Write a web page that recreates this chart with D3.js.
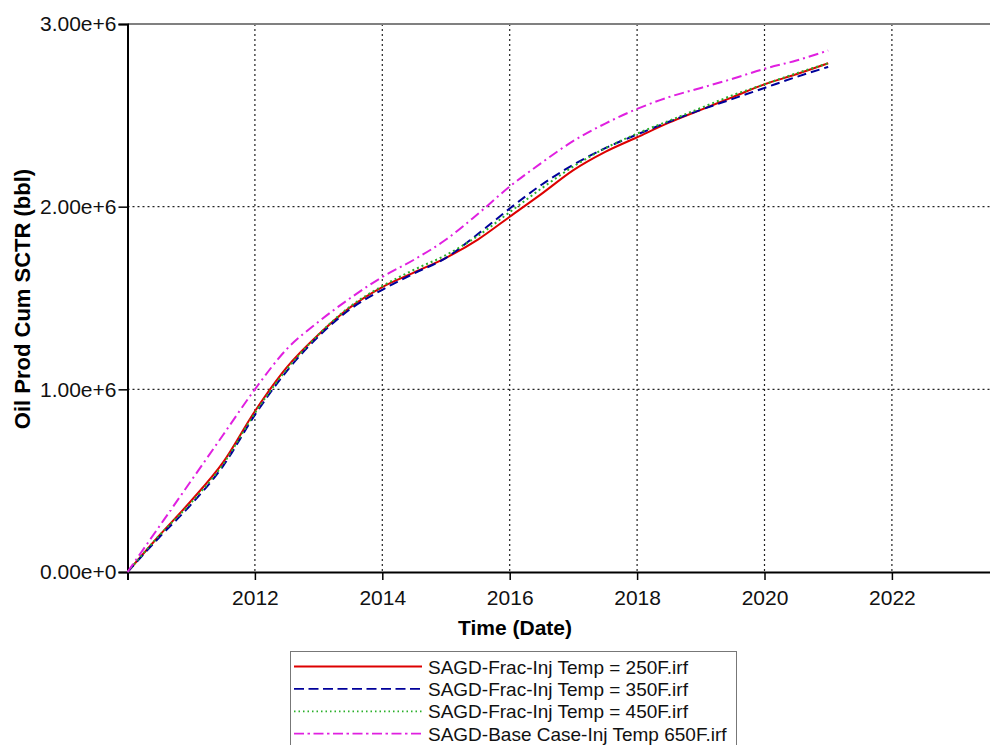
<!DOCTYPE html>
<html>
<head>
<meta charset="utf-8">
<script src="https://cdn.jsdelivr.net/npm/d3@7"></script>
<style>
  html, body { margin: 0; padding: 0; background: #fff; }
  svg { display: block; font-family: Arial, "Liberation Sans", sans-serif; }
</style>
</head>
<body>
<svg id="chart" width="990" height="745"></svg>
<script>
// ---- data ----
const years = [2010, 2010.5, 2011, 2011.5, 2012, 2012.5, 2013, 2013.5, 2014, 2014.5, 2015, 2015.5,
               2016, 2016.5, 2017, 2017.5, 2018, 2018.5, 2019, 2019.5, 2020, 2020.5, 2021];
const seriesNames = [
  "SAGD-Frac-Inj Temp = 250F.irf",
  "SAGD-Frac-Inj Temp = 350F.irf",
  "SAGD-Frac-Inj Temp = 450F.irf",
  "SAGD-Base Case-Inj Temp 650F.irf"
];
const temp250 = [0, 0.20e6, 0.39e6, 0.60e6, 0.88e6, 1.12e6, 1.30e6, 1.45e6, 1.56e6, 1.64e6, 1.72e6, 1.82e6,
                 1.945e6, 2.07e6, 2.20e6, 2.30e6, 2.38e6, 2.46e6, 2.53e6, 2.60e6, 2.67e6, 2.725e6, 2.785e6];
const temp350 = [0, 0.19e6, 0.37e6, 0.58e6, 0.86e6, 1.10e6, 1.29e6, 1.44e6, 1.545e6, 1.635e6, 1.72e6, 1.85e6,
                 1.99e6, 2.12e6, 2.23e6, 2.32e6, 2.395e6, 2.465e6, 2.53e6, 2.59e6, 2.65e6, 2.71e6, 2.765e6];
const temp450 = [0, 0.20e6, 0.38e6, 0.59e6, 0.87e6, 1.11e6, 1.30e6, 1.455e6, 1.565e6, 1.655e6, 1.735e6, 1.84e6,
                 1.97e6, 2.10e6, 2.22e6, 2.32e6, 2.40e6, 2.47e6, 2.54e6, 2.61e6, 2.67e6, 2.73e6, 2.785e6];
const base650 = [0, 0.25e6, 0.50e6, 0.75e6, 1.00e6, 1.22e6, 1.37e6, 1.50e6, 1.615e6, 1.71e6, 1.82e6, 1.96e6,
                 2.11e6, 2.24e6, 2.36e6, 2.455e6, 2.535e6, 2.60e6, 2.65e6, 2.70e6, 2.755e6, 2.80e6, 2.855e6];
const xTicks = [2012, 2014, 2016, 2018, 2020, 2022];
const yTicks = [0, 1e6, 2e6, 3e6];
const yTickLabels = ["0.00e+0", "1.00e+6", "2.00e+6", "3.00e+6"];
const xTitle = "Time (Date)";
const yTitle = "Oil Prod Cum SCTR (bbl)";

// ---- styles ----
const styles = [
  { color: "#dd0000", dash: null, width: 2 },
  { color: "#00009a", dash: "9,5", width: 2 },
  { color: "#2ab02a", dash: "2,3", width: 2 },
  { color: "#e020e0", dash: "10,4,2,4", width: 2 }
];
const legendDash = [null, "10,4.5", "1.5,3", "10,3.5,2.5,3.5"];
const seriesData = [temp250, temp350, temp450, base650];

const svg = d3.select("#chart");
const L = 127.5, T = 24, B = 572;
const x = d3.scaleLinear().domain([2010, 2023.6]).range([L, L + 13.6 * 63.7]);
const y = d3.scaleLinear().domain([0, 3e6]).range([B, T]);
const R = x.range()[1];
const FONT = "Arial, 'Liberation Sans', sans-serif";

// grid
const grid = svg.append("g");
grid.selectAll("line.v").data(xTicks).join("line")
  .attr("x1", d => x(d)).attr("x2", d => x(d))
  .attr("y1", T).attr("y2", B)
  .attr("stroke", "#222").attr("stroke-width", 1.2).attr("stroke-dasharray", "2,3");
grid.selectAll("line.h").data([1e6, 2e6]).join("line")
  .attr("x1", L).attr("x2", R)
  .attr("y1", d => y(d)).attr("y2", d => y(d))
  .attr("stroke", "#222").attr("stroke-width", 1.2).attr("stroke-dasharray", "2,3");

// top border
svg.append("line").attr("x1", L).attr("x2", R).attr("y1", T).attr("y2", T)
  .attr("stroke", "#808080").attr("stroke-width", 2);

// axes
const xAxis = d3.axisBottom(x).tickValues(xTicks).tickFormat(d3.format("d")).tickSizeOuter(0).tickSize(8).tickPadding(10);
const gx = svg.append("g").attr("transform", `translate(0,${B})`).call(xAxis);
gx.select(".domain").attr("stroke", "#000").attr("stroke-width", 2);
gx.selectAll(".tick line").attr("stroke", "#000").attr("stroke-width", 1.5);
gx.selectAll(".tick text").attr("font-size", 21).attr("fill", "#111").attr("font-family", FONT);

const yAxis = d3.axisLeft(y).tickValues(yTicks).tickFormat((d, i) => yTickLabels[i]).tickSizeOuter(0).tickSize(9).tickPadding(2);
const gy = svg.append("g").attr("transform", `translate(${L},0)`).call(yAxis);
gy.select(".domain").attr("stroke", "#000").attr("stroke-width", 2);
gy.selectAll(".tick line").attr("stroke", "#000").attr("stroke-width", 1.5);
gy.selectAll(".tick text").attr("font-size", 21).attr("fill", "#111").attr("font-family", FONT);

// titles
svg.append("text").attr("x", 515).attr("y", 635).attr("text-anchor", "middle")
  .attr("font-size", 21).attr("font-weight", "bold").attr("fill", "#000").text(xTitle);
svg.append("text").attr("transform", "translate(30,299) rotate(-90)").attr("text-anchor", "middle")
  .attr("font-size", 22).attr("font-weight", "bold").attr("fill", "#000").text(yTitle);

// lines
const line = d3.line().x((d, i) => x(years[i])).y(d => y(d)).curve(d3.curveMonotoneX);
seriesData.forEach((s, k) => {
  svg.append("path").datum(s).attr("d", line)
    .attr("fill", "none").attr("stroke", styles[k].color).attr("stroke-width", styles[k].width)
    .attr("stroke-dasharray", styles[k].dash);
});

// legend
const lg = svg.append("g");
lg.append("rect").attr("x", 290.5).attr("y", 651.5).attr("width", 446).attr("height", 110)
  .attr("fill", "#fff").attr("stroke", "#777").attr("stroke-width", 1);
seriesNames.forEach((name, k) => {
  const yy = 666.5 + k * 22.4;
  lg.append("line").attr("x1", 294).attr("x2", 422).attr("y1", yy).attr("y2", yy)
    .attr("stroke", styles[k].color).attr("stroke-width", 1.8).attr("stroke-dasharray", legendDash[k]);
  lg.append("text").attr("x", 428).attr("y", yy + 7).attr("font-size", 19).attr("fill", "#111").text(name);
});
</script>
</body>
</html>
